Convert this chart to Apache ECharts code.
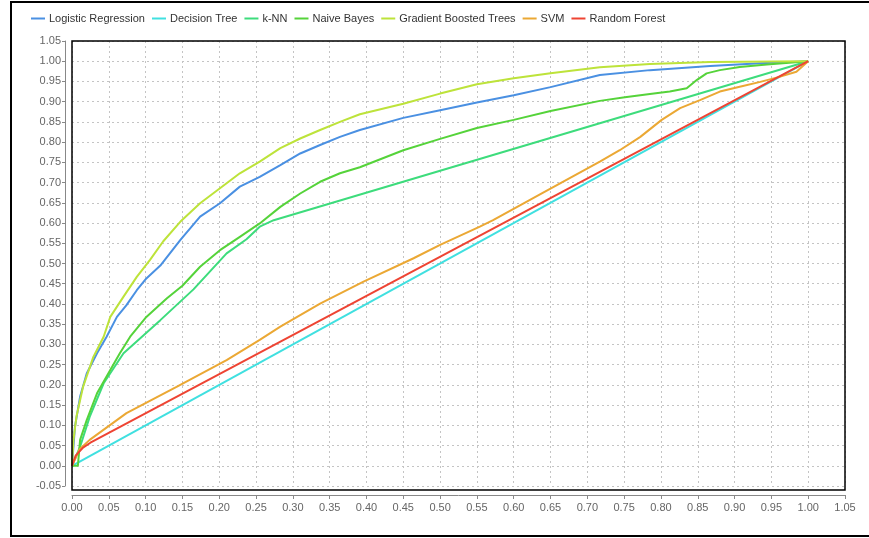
<!DOCTYPE html>
<html>
<head>
<meta charset="utf-8">
<script src="https://cdn.jsdelivr.net/npm/echarts@6/dist/echarts.min.js"></script>
<style>html,body{margin:0;padding:0;background:#fff}#c{width:869px;height:538px}</style>
</head>
<body>
<div id="c"></div>
<script>
var seriesNames = ['Logistic Regression','Decision Tree','k-NN','Naive Bayes','Gradient Boosted Trees','SVM','Random Forest'];
var seriesColors = ['#4a90e2','#40e0e0','#3ddc7c','#55d33a','#bde33a','#eba834','#ee4433'];

var logisticRegression = [[0,0],[0.004,0.096],[0.011,0.171],[0.020,0.228],[0.034,0.278],[0.047,0.319],[0.061,0.368],[0.074,0.397],[0.088,0.434],[0.101,0.463],[0.120,0.495],[0.147,0.558],[0.174,0.616],[0.201,0.649],[0.228,0.690],[0.255,0.714],[0.283,0.743],[0.310,0.772],[0.337,0.793],[0.364,0.813],[0.391,0.830],[0.45,0.860],[0.50,0.879],[0.55,0.898],[0.60,0.916],[0.65,0.936],[0.717,0.966],[0.785,0.978],[0.867,0.988],[0.935,0.995],[1,1]];
var decisionTree = [[0,0],[1,1]];
var kNN = [[0,0],[0.011,0.047],[0.024,0.121],[0.043,0.204],[0.070,0.278],[0.120,0.360],[0.165,0.436],[0.210,0.525],[0.237,0.560],[0.255,0.591],[0.274,0.607],[1,1]];
var naiveBayes = [[0,0],[0.008,0],[0.011,0.064],[0.020,0.113],[0.034,0.179],[0.052,0.237],[0.065,0.278],[0.079,0.319],[0.101,0.368],[0.129,0.414],[0.150,0.445],[0.174,0.492],[0.201,0.533],[0.228,0.566],[0.255,0.599],[0.283,0.640],[0.310,0.673],[0.337,0.702],[0.364,0.723],[0.391,0.738],[0.45,0.780],[0.50,0.808],[0.55,0.835],[0.60,0.855],[0.65,0.877],[0.717,0.902],[0.751,0.911],[0.785,0.919],[0.812,0.925],[0.835,0.933],[0.849,0.954],[0.862,0.970],[0.880,0.978],[0.907,0.986],[0.944,0.992],[1,1]];
var gradientBoosted = [[0,0],[0.002,0.064],[0.006,0.121],[0.015,0.195],[0.029,0.269],[0.043,0.319],[0.052,0.368],[0.070,0.418],[0.088,0.467],[0.106,0.509],[0.124,0.555],[0.147,0.603],[0.174,0.649],[0.201,0.686],[0.228,0.723],[0.255,0.752],[0.283,0.785],[0.310,0.809],[0.337,0.830],[0.364,0.850],[0.391,0.869],[0.45,0.895],[0.50,0.920],[0.55,0.943],[0.60,0.958],[0.65,0.970],[0.717,0.985],[0.785,0.993],[0.867,0.998],[1,1]];
var svm = [[0,0],[0.010,0.040],[0.024,0.064],[0.074,0.130],[0.142,0.195],[0.210,0.261],[0.255,0.311],[0.283,0.344],[0.337,0.401],[0.396,0.455],[0.464,0.513],[0.500,0.546],[0.554,0.591],[0.572,0.607],[0.640,0.675],[0.717,0.752],[0.744,0.780],[0.772,0.813],[0.801,0.855],[0.826,0.884],[0.853,0.904],[0.880,0.925],[0.907,0.937],[0.935,0.949],[0.962,0.962],[0.984,0.974],[1,1]];
var randomForest = [[0,0],[0.005,0.025],[0.015,0.045],[0.025,0.057],[1,1]];

var seriesData = [logisticRegression, decisionTree, kNN, naiveBayes, gradientBoosted, svm, randomForest];
var xTicks = {min:0, max:1.05, interval:0.05};
var yTicks = {min:-0.05, max:1.05, interval:0.05};

var chart = echarts.init(document.getElementById('c'), null, {renderer:'canvas'});
var labelStyle = {color:'#666', fontSize:11, fontFamily:'Liberation Sans, Arial, sans-serif',
  formatter:function(v){return v.toFixed(2);}};
chart.setOption({
  animation:false,
  color: seriesColors,
  legend:{left:26, top:8, itemWidth:14, itemHeight:2, itemGap:7,
    icon:'rect',
    textStyle:{color:'#333', fontSize:11, fontFamily:'Liberation Sans, Arial, sans-serif', padding:[0,0,0,-1]},
    data: seriesNames},
  grid:{left:72, right:24, top:41, bottom:52, containLabel:false},
  xAxis:{type:'value', min:xTicks.min, max:xTicks.max, interval:xTicks.interval, offset:9,
    axisLine:{show:true, onZero:false, lineStyle:{color:'#888', width:1}},
    axisTick:{show:true, length:4, lineStyle:{color:'#888'}},
    axisLabel:Object.assign({margin:7}, labelStyle),
    splitLine:{show:true, lineStyle:{type:[2,3], color:'#c4c4c4', width:1}}},
  yAxis:{type:'value', min:yTicks.min, max:yTicks.max, interval:yTicks.interval, offset:7,
    axisLine:{show:true, onZero:false, lineStyle:{color:'#888', width:1}},
    axisTick:{show:true, length:3, lineStyle:{color:'#888'}},
    axisLabel:Object.assign({margin:4}, labelStyle),
    splitLine:{show:true, lineStyle:{type:[2,3], color:'#c4c4c4', width:1}}},
  graphic:[
    {type:'rect', shape:{x:11, y:2, width:870, height:534}, style:{fill:'none', stroke:'#000', lineWidth:2}, silent:true},
    {type:'rect', shape:{x:72, y:41, width:773, height:449}, style:{fill:'none', stroke:'#000', lineWidth:1.5}, silent:true, z:100}
  ],
  series: seriesNames.map(function(n,i){
    return {name:n, type:'line', data:seriesData[i], showSymbol:false, symbol:'none',
      lineStyle:{width:2, color:seriesColors[i]}, itemStyle:{color:seriesColors[i]}, z:2+i};
  })
});
</script>
</body>
</html>
